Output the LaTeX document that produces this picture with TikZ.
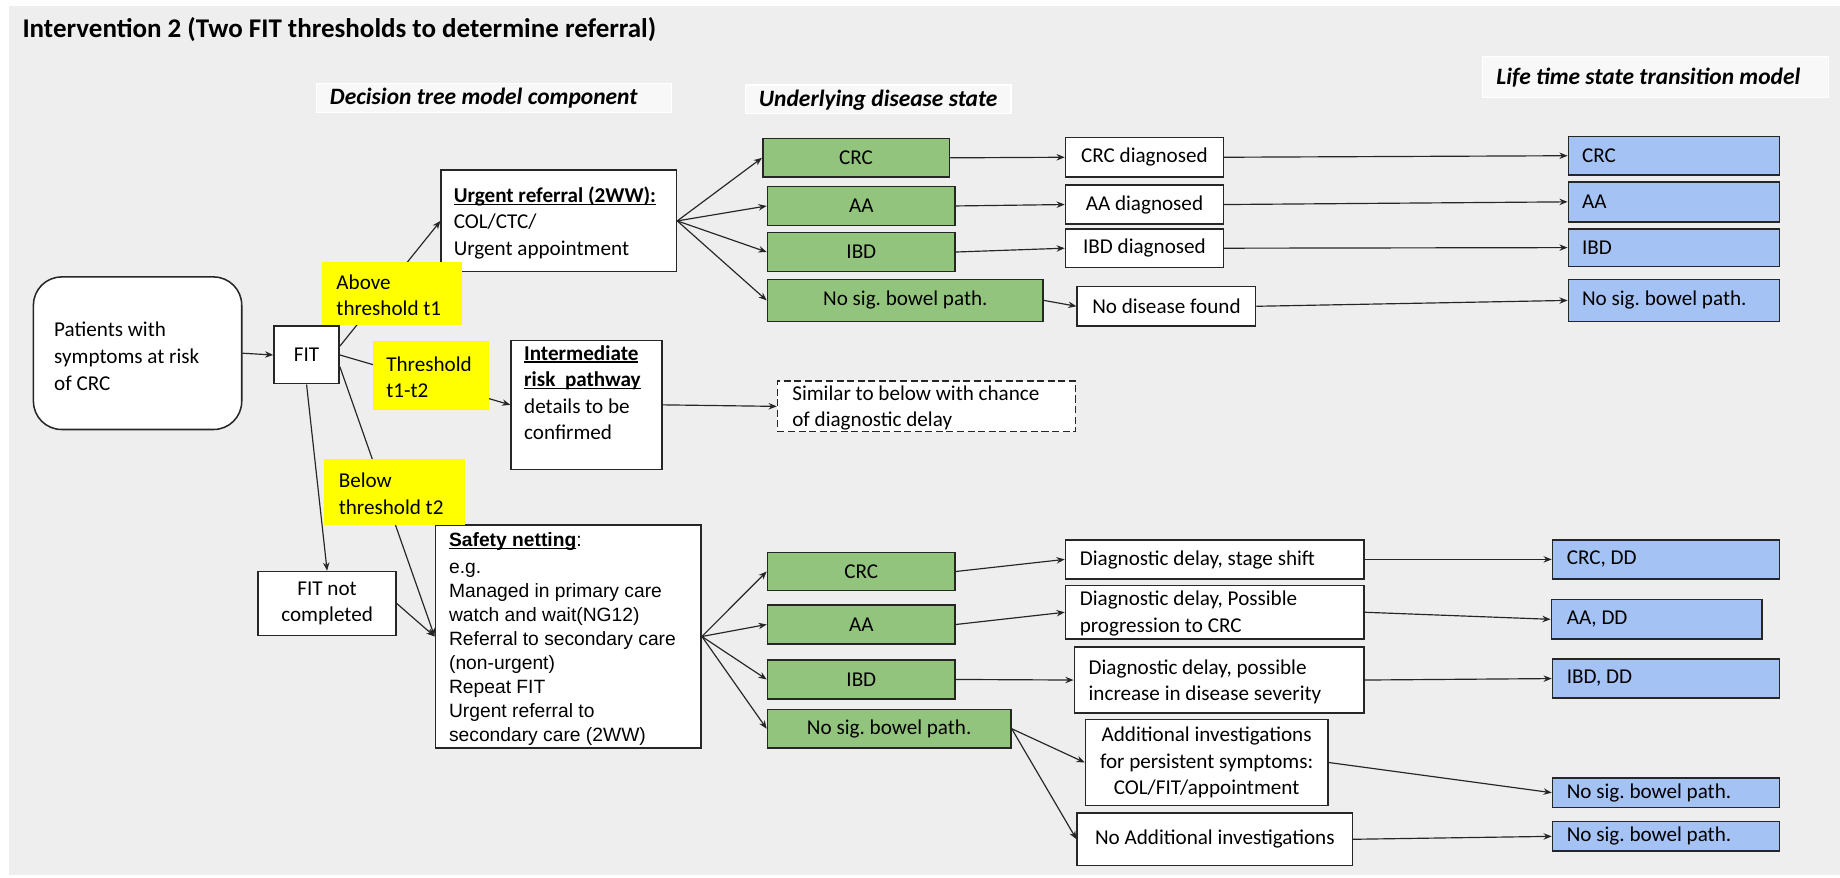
\documentclass[tikz,border=0pt]{standalone}
\usepackage{fontspec}
\setmainfont{Carlito}
\newfontfamily\arialf{Liberation Sans}
\usetikzlibrary{arrows.meta,calc}
\definecolor{bg}{HTML}{EEEEEE}
\definecolor{grn}{HTML}{93C47D}
\definecolor{blu}{HTML}{A4C2F4}
\definecolor{yel}{HTML}{FFFF00}
\definecolor{ink}{HTML}{262626}
\newcommand\ulx[1]{\leavevmode\setbox0\hbox{#1}\rlap{\rule[-2.2pt]{\wd0}{1.1pt}}\box0}
\tikzset{
 base/.style={draw=ink, line width=1.3pt, inner sep=0pt, font=\fontsize{18}{22.7}\selectfont},
 wbox/.style={base, fill=white, align=center},
 gbox/.style={base, fill=grn, align=center},
 bbox/.style={base, fill=blu},
 ybox/.style={fill=yel, inner sep=0pt},
 hdr/.style={draw=white, line width=1pt, fill=bg!40!white, inner sep=0pt},
 txt/.style={inner sep=0pt, anchor=west, align=left, font=\fontsize{18}{22.7}\selectfont},
 htxt/.style={inner sep=0pt, anchor=west, font=\fontsize{20}{24}\selectfont\bfseries\itshape},
 arr/.style={draw=ink, line width=1pt, -{Stealth[length=7pt,width=5.5pt]}},
}
\frenchspacing
\begin{document}
\begin{tikzpicture}[x=1pt,y=-1pt]
\useasboundingbox (0,0) rectangle (1568,748);
\fill[white] (0,0) rectangle (1568,748);
\fill[bg] (7.5,5) rectangle (1568,746);

\node[anchor=west, inner sep=0pt, font=\fontsize{23}{27}\selectfont\bfseries] (title) at (19,25) {Intervention 2 (Two FIT thresholds to determine referral)};

\node[hdr, minimum width=302.5pt, minimum height=25pt] (hdt) at (421.25,83.5) {};
\node[htxt] (hdtt) at (281,84) {Decision tree model component};
\node[hdr, minimum width=226.5pt, minimum height=24.6pt] (hud) at (748.25,84.7) {};
\node[htxt] (hudt) at (646.5,85) {Underlying disease state};
\node[hdr, minimum width=295pt, minimum height=35pt] (hlt) at (1410.5,65.5) {};
\node[htxt] (hltt) at (1275,66.5) {Life time state transition model};

% left part
\node[wbox, rounded corners=24pt, minimum width=177.5pt, minimum height=130pt] (pat) at (117.25,301) {};
\node[txt] (patt) at (46,303.5) {Patients with\\symptoms at risk\\of CRC};
\node[wbox, minimum width=55.5pt, minimum height=49pt] (fit) at (261.25,302.5) {FIT};
\node[wbox, minimum width=200.5pt, minimum height=86.5pt] (urg) at (476.25,188.25) {};
\node[txt] (urgt) at (386.5,190) {\ulx{\textbf{Urgent referral (2WW):}}\\COL/CTC/\\Urgent appointment};
\node[wbox, minimum width=128.5pt, minimum height=110pt] (inter) at (499.75,345) {};
\node[txt] (intert) at (446.5,334.6) {\ulx{\textbf{Intermediate}}\\\ulx{\textbf{risk\ \ pathway}}\\details to be\\confirmed};
\node[wbox, dash pattern=on 6pt off 3pt, line width=1.1pt, minimum width=254pt, minimum height=43.4pt] (dash) at (789.5,346.3) {};
\node[txt] (dasht) at (675,347.7) {Similar to below with chance\\of diagnostic delay};
\node[wbox, minimum width=117.5pt, minimum height=54.6pt] (notc) at (278.75,514.3) {FIT not\\completed};
\node[wbox, minimum width=226.5pt, minimum height=190pt] (safe) at (484.25,542.4) {};
\node[txt, font=\arialf\fontsize{16.4}{20.4}\selectfont] (safet) at (382.5,544.5) {\ulx{\textbf{Safety netting}}:\\[3pt]e.g.\\Managed in primary care\\watch and wait(NG12)\\Referral to secondary care\\(non-urgent)\\Repeat FIT\\Urgent referral to\\secondary care (2WW)};

% top group
\node[gbox, minimum width=159pt, minimum height=33pt] (gc1) at (729.5,134.5) {CRC};
\node[gbox, minimum width=160pt, minimum height=33pt] (ga1) at (734,175.5) {AA};
\node[gbox, minimum width=160pt, minimum height=33.5pt] (gi1) at (734,214.75) {IBD};
\node[gbox, minimum width=235pt, minimum height=36pt] (gn1) at (771.5,256) {No sig. bowel path.};

\node[wbox, minimum width=134.5pt, minimum height=34pt] (wc1) at (975.25,134) {CRC diagnosed};
\node[wbox, minimum width=134.5pt, minimum height=33.4pt] (wa1) at (975.25,174.3) {AA diagnosed};
\node[wbox, minimum width=134.5pt, minimum height=33pt] (wi1) at (975.25,211.5) {IBD diagnosed};
\node[wbox, minimum width=152pt, minimum height=34pt] (wn1) at (994,261) {No disease found};

\node[bbox, minimum width=180pt, minimum height=32.6pt] (bc1) at (1426.5,132.7) {};
\node[txt] (bc1t) at (1348,132.7) {CRC};
\node[bbox, minimum width=180pt, minimum height=34pt] (ba1) at (1426.5,172) {};
\node[txt] (ba1t) at (1348,172) {AA};
\node[bbox, minimum width=180pt, minimum height=32pt] (bi1) at (1426.5,211) {};
\node[txt] (bi1t) at (1348,211) {IBD};
\node[bbox, minimum width=180pt, minimum height=36pt] (bn1) at (1426.5,256) {};
\node[txt] (bn1t) at (1348,256) {No sig. bowel path.};

% bottom group
\node[gbox, minimum width=160pt, minimum height=32.6pt] (gc2) at (734,487) {CRC};
\node[gbox, minimum width=160pt, minimum height=33.3pt] (ga2) at (734,532.15) {AA};
\node[gbox, minimum width=160pt, minimum height=33.2pt] (gi2) at (734,579) {IBD};
\node[gbox, minimum width=207.5pt, minimum height=32.7pt] (gn2) at (757.75,621) {No sig. bowel path.};

\node[wbox, minimum width=254.5pt, minimum height=33.4pt] (wc2) at (1035.25,476.7) {};
\node[txt] (wc2t) at (920,477) {Diagnostic delay, stage shift};
\node[wbox, minimum width=254.5pt, minimum height=45.5pt] (wa2) at (1035.25,521.75) {};
\node[txt] (wa2t) at (920,523) {Diagnostic delay, Possible\\progression to CRC};
\node[wbox, minimum width=247pt, minimum height=56pt] (wi2) at (1039,579.5) {};
\node[txt] (wi2t) at (927.5,581) {Diagnostic delay, possible\\increase in disease severity};
\node[wbox, minimum width=206.5pt, minimum height=73.5pt] (wadd) at (1028.25,649.75) {Additional investigations\\for persistent symptoms:\\COL/FIT/appointment};
\node[wbox, minimum width=234.5pt, minimum height=44.8pt] (wnoadd) at (1035.25,715.2) {No Additional investigations};

\node[bbox, minimum width=193.5pt, minimum height=33.4pt] (bc2) at (1419.75,476.7) {};
\node[txt] (bc2t) at (1335,476.7) {CRC, DD};
\node[bbox, minimum width=179.5pt, minimum height=33.5pt] (ba2) at (1411.75,527.75) {};
\node[txt] (ba2t) at (1335,527.75) {AA, DD};
\node[bbox, minimum width=193.5pt, minimum height=33.5pt] (bi2) at (1419.75,578.25) {};
\node[txt] (bi2t) at (1335,578.25) {IBD, DD};
\node[bbox, minimum width=193.5pt, minimum height=25pt] (bna) at (1419.75,675.5) {};
\node[txt] (bnat) at (1335,675.5) {No sig. bowel path.};
\node[bbox, minimum width=193.5pt, minimum height=25.4pt] (bnb) at (1419.75,712.7) {};
\node[txt] (bnbt) at (1335,712.7) {No sig. bowel path.};

% connectors
\draw[arr] (pat.east) -- (fit.west);
\draw[arr] ($(fit.north east)!0.35!(fit.south east)$) -- (urg.west);
\draw[arr] (fit.east) -- (inter.west);
\draw[arr] ($(fit.north east)!0.7!(fit.south east)$) -- (safe.west);
\draw[arr] (fit.south) -- (notc.north);
\draw[arr] (notc.east) -- (safe.west);
\draw[arr] (inter.east) -- (dash.west);
\foreach \g in {gc1,ga1,gi1,gn1} \draw[arr] (urg.east) -- (\g.west);
\foreach \g in {gc2,ga2,gi2,gn2} \draw[arr] (safe.east) -- (\g.west);
\draw[arr] (gc1.east) -- (wc1.west);
\draw[arr] (ga1.east) -- (wa1.west);
\draw[arr] (gi1.east) -- (wi1.west);
\draw[arr] (gn1.east) -- (wn1.west);
\draw[arr] (wc1.east) -- (bc1.west);
\draw[arr] (wa1.east) -- (ba1.west);
\draw[arr] (wi1.east) -- (bi1.west);
\draw[arr] (wn1.east) -- (bn1.west);
\draw[arr] (gc2.east) -- (wc2.west);
\draw[arr] (ga2.east) -- (wa2.west);
\draw[arr] (gi2.east) -- (wi2.west);
\draw[arr] (gn2.east) -- (wadd.west);
\draw[arr] (gn2.east) -- (wnoadd.west);
\draw[arr] (wc2.east) -- (bc2.west);
\draw[arr] (wa2.east) -- (ba2.west);
\draw[arr] (wi2.east) -- (bi2.west);
\draw[arr] (wadd.east) -- (bna.west);
\draw[arr] (wnoadd.east) -- (bnb.west);

% yellow labels on top of lines
\node[ybox, minimum width=119.5pt, minimum height=54pt] (yab) at (333.75,250) {};
\node[txt] (yabt) at (286.5,251.5) {Above\\threshold t1};
\node[ybox, minimum width=99pt, minimum height=58pt] (ythr) at (367,320) {};
\node[txt] (ythrt) at (329,321.5) {Threshold\\t1-t2};
\node[ybox, minimum width=119.5pt, minimum height=56.4pt] (ybel) at (336.25,419.2) {};
\node[txt] (ybelt) at (288.5,421) {Below\\threshold t2};
\end{tikzpicture}
\end{document}
